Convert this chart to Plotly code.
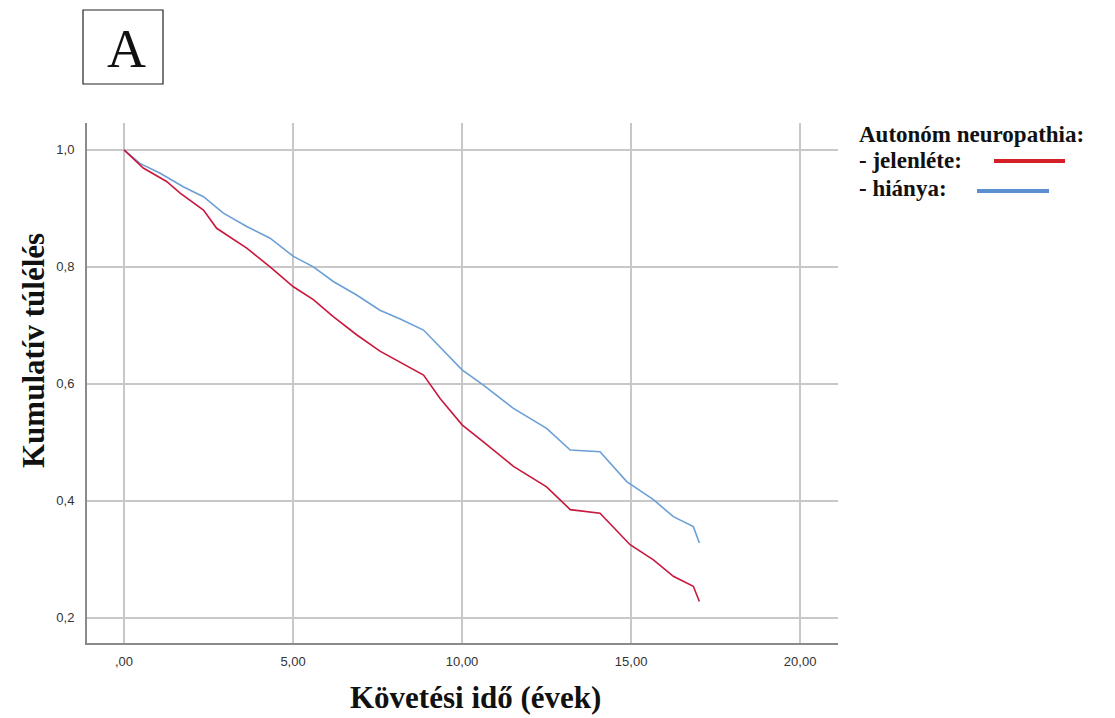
import plotly.graph_objects as go

# (time in years, cumulative survival)
t_present = [0, 0.57, 1.26, 1.66, 2.35, 2.74, 3.63, 4.32, 5.01, 5.6, 6.19, 6.88, 7.57,
             8.36, 8.86, 9.35, 10.0, 10.63, 11.52, 12.5, 13.2, 14.08, 14.97, 15.66,
             16.25, 16.84, 17.02]
s_present = [1.0, 0.969, 0.946, 0.926, 0.897, 0.866, 0.832, 0.80, 0.766, 0.744, 0.715,
             0.684, 0.656, 0.63, 0.615, 0.575, 0.530, 0.501, 0.459, 0.424, 0.385, 0.379,
             0.325, 0.299, 0.271, 0.254, 0.228]

t_absent = [0, 0.47, 1.07, 1.75, 2.35, 2.94, 3.63, 4.32, 5.01, 5.6, 6.19, 6.88, 7.57,
            8.17, 8.86, 9.35, 10.0, 10.63, 11.52, 12.5, 13.2, 14.08, 14.87, 15.66,
            16.25, 16.84, 17.02]
s_absent = [1.0, 0.977, 0.96, 0.937, 0.92, 0.892, 0.869, 0.849, 0.818, 0.80, 0.775,
            0.752, 0.726, 0.711, 0.692, 0.662, 0.624, 0.598, 0.558, 0.524, 0.487, 0.484,
            0.433, 0.402, 0.373, 0.356, 0.328]

x_ticks = [0, 5, 10, 15, 20]
x_ticktext = [",00", "5,00", "10,00", "15,00", "20,00"]
y_ticks = [0.2, 0.4, 0.6, 0.8, 1.0]
y_ticktext = ["0,2", "0,4", "0,6", "0,8", "1,0"]

RED = "#c9183c"
BLUE = "#6b9fd6"

OFF = 8  # page body margin
L, T, PW, PH = 87 - OFF, 123 - OFF, 751, 520
W, H = 1115, 718


def px_x(p):
    return (p - OFF - L) / PW


def px_y(p):
    return (T + PH - (p - OFF)) / PH


fig = go.Figure()
fig.add_trace(go.Scatter(x=t_absent, y=s_absent, mode="lines",
                         line=dict(color=BLUE, width=1.6), showlegend=False))
fig.add_trace(go.Scatter(x=t_present, y=s_present, mode="lines",
                         line=dict(color=RED, width=1.6), showlegend=False))

fig.update_layout(
    width=W, height=H,
    margin=dict(l=L, r=W - L - PW, t=T, b=H - T - PH),
    paper_bgcolor="white", plot_bgcolor="white",
    font=dict(family="Liberation Sans", size=13, color="#333"),
    showlegend=False,
)
fig.update_xaxes(range=[-1.095, 21.12], tickvals=x_ticks, ticktext=x_ticktext,
                 showgrid=True, gridcolor="#c8c8c8", gridwidth=1.5,
                 showline=True, linecolor="#8a8a8a", linewidth=2,
                 zeroline=False, ticks="", ticklabelstandoff=5,
                 tickfont=dict(family="Liberation Sans", size=13, color="#333"))
fig.update_yaxes(range=[0.157, 1.046], tickvals=y_ticks, ticktext=y_ticktext,
                 showgrid=True, gridcolor="#c8c8c8", gridwidth=1.5,
                 showline=True, linecolor="#8a8a8a", linewidth=2,
                 zeroline=False, ticks="", ticklabelstandoff=8,
                 tickfont=dict(family="Liberation Sans", size=13, color="#333"))

# Axis titles
fig.add_annotation(xref="paper", yref="paper", x=px_x(475), y=px_y(697),
                   text="<b>Követési idő (évek)</b>", showarrow=False,
                   xanchor="center", yanchor="middle",
                   font=dict(family="Liberation Serif", size=31, color="#111"))
fig.add_annotation(xref="paper", yref="paper", x=px_x(33), y=px_y(351),
                   text="<b>Kumulatív túlélés</b>", showarrow=False, textangle=-90,
                   xanchor="center", yanchor="middle",
                   font=dict(family="Liberation Serif", size=31, color="#111"))

# Panel label "A" in a box
fig.add_shape(type="rect", xref="paper", yref="paper",
              x0=px_x(83), x1=px_x(163), y0=px_y(84), y1=px_y(10),
              line=dict(color="#222", width=1.2), fillcolor="white")
fig.add_annotation(xref="paper", yref="paper", x=px_x(126), y=px_y(49),
                   text="A", showarrow=False,
                   font=dict(family="Liberation Serif", size=54, color="#111"),
                   xanchor="center", yanchor="middle")

# Custom legend
for txt, yy in [("<b>Autonóm neuropathia:</b>", 134),
                ("<b>- jelenléte:</b>", 161),
                ("<b>- hiánya:</b>", 188)]:
    fig.add_annotation(xref="paper", yref="paper", x=px_x(857), y=px_y(yy),
                       text=txt, showarrow=False,
                       xanchor="left", yanchor="middle",
                       font=dict(family="Liberation Serif", size=23, color="#111"))
fig.add_shape(type="line", xref="paper", yref="paper",
              x0=px_x(994), x1=px_x(1065), y0=px_y(161), y1=px_y(161),
              line=dict(color="#d41f26", width=4))
fig.add_shape(type="line", xref="paper", yref="paper",
              x0=px_x(977), x1=px_x(1049), y0=px_y(191), y1=px_y(191),
              line=dict(color="#5b8fcf", width=4))

fig.write_html("out.html")
